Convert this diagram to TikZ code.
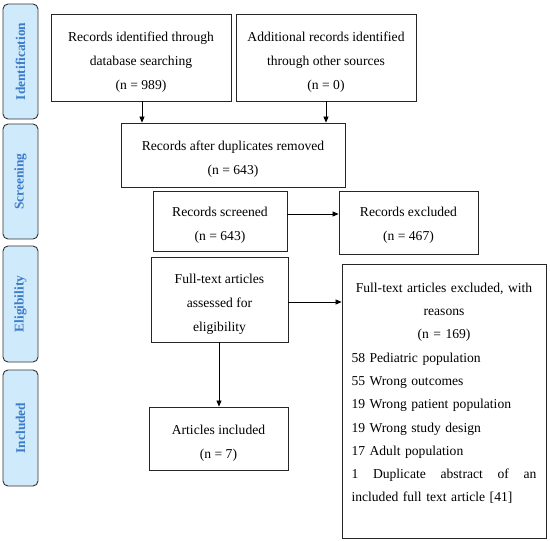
\documentclass[tikz,border=0pt]{standalone}
\usepackage{fontspec}
\setmainfont{Liberation Serif}
\usetikzlibrary{arrows.meta}
\definecolor{sidefill}{HTML}{CFEAFB}
\definecolor{sidetext}{HTML}{3D7CC9}
\definecolor{sidedraw}{HTML}{333333}
\tikzset{
  box/.style={draw=black!85, line width=0.8pt, inner sep=0pt},
  boxtext/.style={align=center, inner sep=0pt, yshift=-4.5pt,
    font=\fontsize{13.6}{24}\selectfont},
  side/.style={draw=sidedraw, fill=sidefill, rounded corners=5pt, line width=0.9pt,
    minimum width=35pt, inner sep=0pt},
  sidelab/.style={rotate=90, text=sidetext, font=\fontsize{13.4}{14}\selectfont\bfseries},
  arr/.style={-{Triangle[length=6pt,width=5pt]}, line width=0.7pt}
}
\begin{document}
\begin{tikzpicture}[x=1pt,y=-1pt]
\useasboundingbox (0,0) rectangle (550,541);
% side labels
\node[side, minimum height=115pt] (sid) at (20.5,61.5) {};
\node[sidelab] (sidt) at (sid.center) {Identification};
\node[side, minimum height=115pt] (ssc) at (20.5,181.5) {};
\node[sidelab] (ssct) at (ssc.center) {Screening};
\node[side, minimum height=116pt] (sel) at (20.5,304) {};
\node[sidelab] (selt) at (sel.center) {Eligibility};
\node[side, minimum height=116pt] (sin) at (20.5,428) {};
\node[sidelab] (sint) at (sin.center) {Included};
% boxes
\node[box, minimum width=180pt, minimum height=87pt] (b1) at (141,57.5) {};
\node[boxtext] (b1t) at (b1.center)
  {Records identified through\\ database searching\\ (n = 989)};
\node[box, minimum width=180pt, minimum height=87pt] (b2) at (326,57.5) {};
\node[boxtext] (b2t) at (b2.center)
  {Additional records identified\\ through other sources\\ (n = 0)};
\node[box, minimum width=224pt, minimum height=64pt] (b3) at (233,155) {};
\node[boxtext] (b3t) at (b3.center)
  {Records after duplicates removed\\ (n = 643)};
\node[box, minimum width=134pt, minimum height=60pt] (b4) at (220,221) {};
\node[boxtext] (b4t) at (b4.center)
  {Records screened\\ (n = 643)};
\node[box, minimum width=139pt, minimum height=63pt] (b5) at (408.5,222.5) {};
\node[boxtext] (b5t) at ([yshift=1.5pt]b5.center)
  {Records excluded\\ (n = 467)};
\node[box, minimum width=137pt, minimum height=85pt] (b6) at (219.5,299.5) {};
\node[boxtext] (b6t) at (b6.center)
  {Full-text articles\\ assessed for\\ eligibility};
\node[box, minimum width=139pt, minimum height=63pt] (b8) at (218.5,438.5) {};
\node[boxtext] (b8t) at (b8.center)
  {Articles included\\ (n = 7)};
\node[box, minimum width=204pt, minimum height=274pt] (b7) at (444,401) {};
\node[anchor=north, inner sep=0pt, text width=185pt, align=left,
  font=\fontsize{13.6}{23.3}\selectfont] (b7t) at ([yshift=-19pt]b7.north)
  {\centering Full-text articles excluded, with\\ reasons\\ (n = 169)\par
   \raggedright 58 Pediatric population\\
   55 Wrong outcomes\\
   19 Wrong patient population\\
   19 Wrong study design\\
   17 Adult population\\
   \leavevmode\hbox to 185pt{1\hfill Duplicate\hfill abstract\hfill of\hfill an}\\
   included full text article [41]\par};
% connectors
\draw[arr] (b1.south -| 142,0) -- (b3.north -| 142,0);
\draw[arr] (b2.south -| 326,0) -- (b3.north -| 326,0);
\draw[arr] (b4.east |- 0,214) -- (b5.west |- 0,214);
\draw[arr] (b6.east |- 0,302) -- (b7.west |- 0,302);
\draw[arr] (b6.south -| 219,0) -- (b8.north -| 219,0);
\end{tikzpicture}
\end{document}
